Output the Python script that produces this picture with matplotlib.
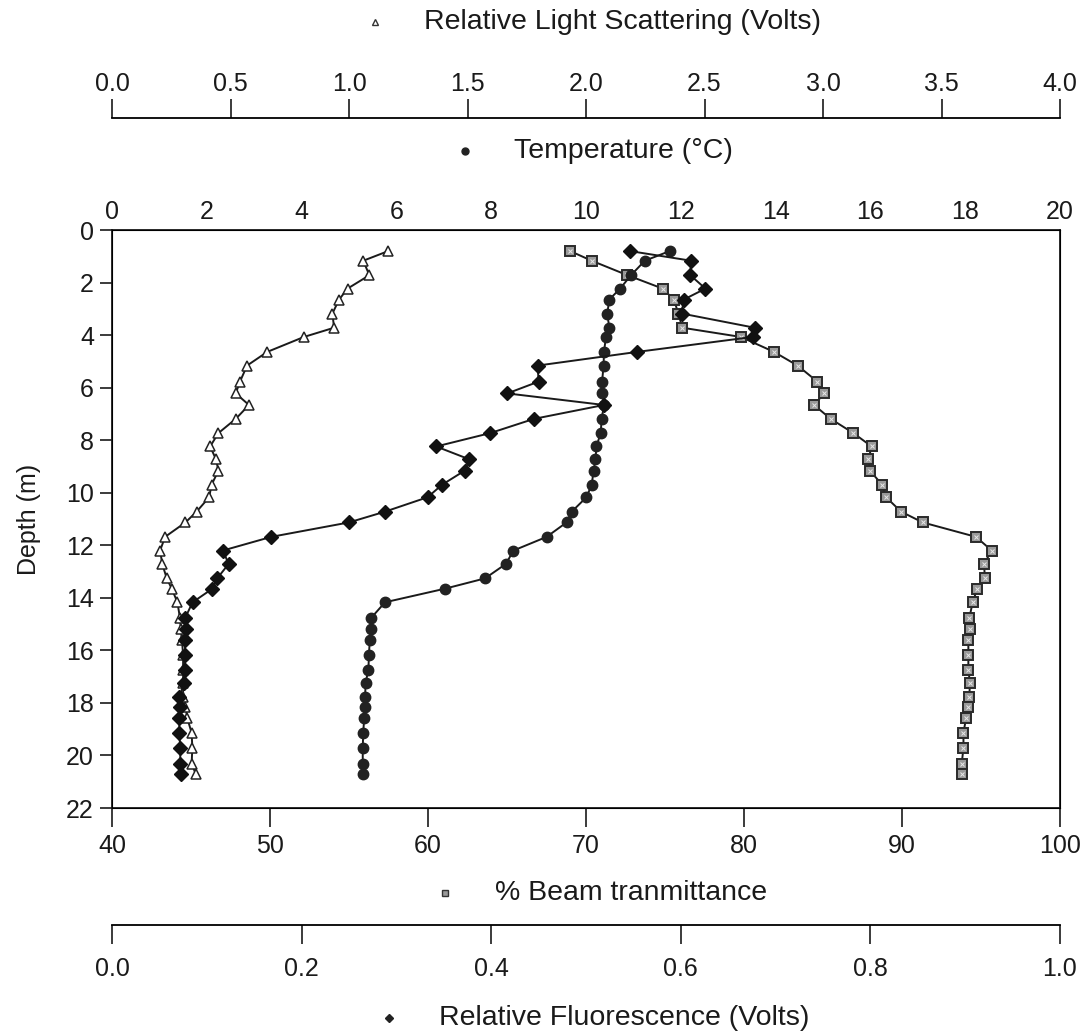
import matplotlib.pyplot as plt
from matplotlib.lines import Line2D

plt.rcParams['font.family'] = ['Liberation Sans', 'DejaVu Sans']

# Sampling depths (m), shared by all four profiles
depth = [0.8, 1.17, 1.72, 2.23, 2.65, 3.18, 3.72, 4.07, 4.64, 5.16,
         5.77, 6.22, 6.66, 7.19, 7.73, 8.24, 8.73, 9.16, 9.70, 10.17,
         10.72, 11.13, 11.68, 12.2, 12.71, 13.26, 13.65, 14.17, 14.78, 15.18,
         15.59, 16.16, 16.73, 17.24, 17.77, 18.14, 18.59, 19.14, 19.71, 20.31,
         20.7]

# Temperature (deg C)
temperature = [11.77, 11.24, 10.95, 10.72, 10.49, 10.45, 10.49, 10.42, 10.38, 10.37,
               10.34, 10.34, 10.38, 10.33, 10.31, 10.22, 10.20, 10.16, 10.12, 10.01,
               9.70, 9.59, 9.17, 8.47, 8.31, 7.87, 7.03, 5.76, 5.46, 5.46,
               5.44, 5.42, 5.41, 5.35, 5.34, 5.34, 5.32, 5.30, 5.29, 5.29,
               5.29]

# % beam transmittance
transmittance = [68.99, 70.36, 72.62, 74.85, 75.57, 75.84, 76.10, 79.80, 81.90, 83.39,
                 84.64, 85.08, 84.43, 85.49, 86.92, 88.08, 87.87, 87.97, 88.75, 88.99,
                 89.94, 91.31, 94.68, 95.68, 95.19, 95.25, 94.77, 94.47, 94.26, 94.30,
                 94.20, 94.20, 94.20, 94.30, 94.26, 94.20, 94.05, 93.89, 93.89, 93.78,
                 93.78]

# Relative fluorescence (V)
fluorescence = [0.546, 0.611, 0.610, 0.626, 0.603, 0.601, 0.678, 0.676, 0.554, 0.449,
                0.450, 0.417, 0.519, 0.445, 0.399, 0.342, 0.377, 0.372, 0.348, 0.333,
                0.288, 0.250, 0.168, 0.117, 0.123, 0.111, 0.106, 0.085, 0.077, 0.078,
                0.077, 0.077, 0.077, 0.076, 0.071, 0.072, 0.071, 0.071, 0.072, 0.072,
                0.073]

# Relative light scattering (V)
scattering = [1.166, 1.060, 1.086, 0.994, 0.958, 0.930, 0.937, 0.810, 0.655, 0.570,
              0.540, 0.522, 0.578, 0.522, 0.449, 0.414, 0.439, 0.449, 0.420, 0.410,
              0.357, 0.310, 0.224, 0.203, 0.212, 0.231, 0.252, 0.276, 0.287, 0.290,
              0.295, 0.300, 0.300, 0.300, 0.300, 0.310, 0.318, 0.336, 0.339, 0.336,
              0.353]

depth_ticks = list(range(0, 23, 2))
trans_ticks = [40, 50, 60, 70, 80, 90, 100]
temp_ticks = list(range(0, 21, 2))
scat_ticks = [0.0, 0.5, 1.0, 1.5, 2.0, 2.5, 3.0, 3.5, 4.0]
fluor_ticks = [0.0, 0.2, 0.4, 0.6, 0.8, 1.0]

W, H = 1086, 1035
ink = '#1a1a1a'
fs = 18

fig = plt.figure(figsize=(W / 100, H / 100), dpi=100)
ax = fig.add_axes([112 / W, 1 - 808 / H, 948 / W, 578 / H])

# bottom: % beam transmittance
ax.set_xlim(40, 100)
ax.set_ylim(22, 0)
ax.set_xticks(trans_ticks)
ax.set_yticks(depth_ticks)
ax.tick_params(axis='x', direction='out', length=14, width=1.2, pad=5,
               labelsize=fs, colors=ink)
ax.tick_params(axis='y', direction='out', length=9, width=1.2, pad=4,
               labelsize=fs, colors=ink)
ax.set_ylabel('Depth (m)', fontsize=18, labelpad=18, color=ink)
for s in ax.spines.values():
    s.set_linewidth(1.3)
    s.set_color(ink)

# top: temperature
ax_t = ax.twiny()
ax_t.set_xlim(0, 20)
ax_t.set_xticks(temp_ticks)
ax_t.tick_params(axis='x', length=0, pad=4, labelsize=fs, colors=ink)

# extra top scale: light scattering
ax_s = ax.twiny()
ax_s.set_xlim(0, 4.0)
ax_s.set_xticks(scat_ticks)
ax_s.set_xticklabels([f'{v:.1f}' for v in scat_ticks])
ax_s.spines['top'].set_position(('outward', 112 * 0.72))
for k in ['left', 'right', 'bottom']:
    ax_s.spines[k].set_visible(False)
ax_s.spines['top'].set_linewidth(1.3)
ax_s.tick_params(axis='x', direction='out', length=14, width=1.2, pad=2,
                 labelsize=fs, colors=ink)

# extra bottom scale: fluorescence
ax_f = ax.twiny()
ax_f.xaxis.set_ticks_position('bottom')
ax_f.xaxis.set_label_position('bottom')
ax_f.set_xlim(0, 1.0)
ax_f.set_xticks(fluor_ticks)
ax_f.set_xticklabels([f'{v:.1f}' for v in fluor_ticks])
ax_f.spines['bottom'].set_position(('outward', 117 * 0.72))
for k in ['left', 'right', 'top']:
    ax_f.spines[k].set_visible(False)
ax_f.spines['bottom'].set_visible(True)
ax_f.spines['bottom'].set_linewidth(1.3)
ax_f.tick_params(axis='x', direction='out', length=14, width=1.2, pad=9,
                 labelsize=fs, colors=ink)

line_kw = dict(color=ink, lw=1.4)
ax.plot(transmittance, depth, marker='s', ms=6.5, mfc='#9a9a9a', mec='#2a2a2a',
        mew=1.4, zorder=3, **line_kw)
ax.plot(transmittance, depth, ls='none', marker='x', ms=3, mec='#e8e8e8',
        mew=0.7, zorder=4)
ax_t.plot(temperature, depth, marker='o', ms=7.5, mfc='#222222', mec='#222222',
          zorder=3, **line_kw)
ax_f.plot(fluorescence, depth, marker='D', ms=6.8, mfc='#111111', mec='#111111',
          zorder=3, **line_kw)
ax_s.plot(scattering, depth, marker='^', ms=7.5, mfc='white', mec='#222222',
          mew=1.1, zorder=3, **line_kw)
for a in (ax_t, ax_s, ax_f):
    a.set_ylim(22, 0)

# series titles with their marker keys
def key_title(ypx, xmark, xtext, marker, text, **mk):
    y = 1 - ypx / H
    fig.add_artist(Line2D([xmark / W], [y], marker=marker, ls='none',
                          transform=fig.transFigure, **mk))
    fig.text(xtext / W, y, text, fontsize=20.5, color=ink, va='center', ha='left')

key_title(22, 375, 424, '^', 'Relative Light Scattering (Volts)',
          ms=5, mfc='white', mec='#333333', mew=1)
key_title(151, 465, 514, 'o', 'Temperature (°C)', ms=5, mfc='#222222', mec='#222222')
key_title(893, 445, 495, 's', '% Beam tranmittance', ms=5, mfc='#999999',
          mec='#333333', mew=1)
key_title(1018, 389, 439, 'D', 'Relative Fluorescence (Volts)', ms=4.5,
          mfc='#222222', mec='#222222')

fig.savefig('out.png', dpi=100, facecolor='white')
